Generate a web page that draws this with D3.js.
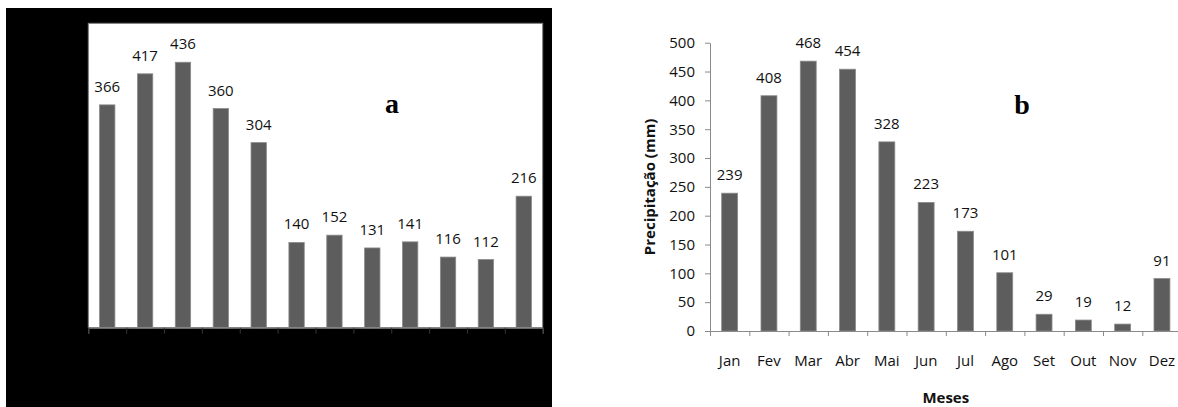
<!DOCTYPE html>
<html>
<head>
<meta charset="utf-8">
<script src="https://cdn.jsdelivr.net/npm/d3@7"></script>
<style>
  html, body { margin: 0; padding: 0; background: #fff; }
  svg { display: block; }
  .lbl { font-family: "Open Sans", "Liberation Sans", sans-serif; font-size: 15px; fill: #111; }
</style>
</head>
<body>
<div id="chart"></div>
<script>
// ---- data ----
const months = ["Jan", "Fev", "Mar", "Abr", "Mai", "Jun", "Jul", "Ago", "Set", "Out", "Nov", "Dez"];
const valuesA = [366, 417, 436, 360, 304, 140, 152, 131, 141, 116, 112, 216];
const valuesB = [239, 408, 468, 454, 328, 223, 173, 101, 29, 19, 12, 91];
const yTicksB = [0, 50, 100, 150, 200, 250, 300, 350, 400, 450, 500];
const yTitleB = "Precipitação (mm)";
const xTitleB = "Meses";
const panelA = "a";
const panelB = "b";

const W = 1178, H = 407;
const svg = d3.select("#chart").append("svg").attr("width", W).attr("height", H);
svg.append("rect").attr("width", W).attr("height", H).attr("fill", "#fff");

const BAR = "#5d5d5d", BAR_EDGE = "#8a8a8a", AXIS = "#8a8a8a";

// ================= Panel a =================
const gA = svg.append("g");
gA.append("rect").attr("x", 6).attr("y", 8).attr("width", 546).attr("height", H - 8).attr("fill", "#000");

const xA = d3.scaleBand().domain(months).range([88.3, 542.7]).paddingInner(0.595).paddingOuter(0.2975);
const yA = d3.scaleLinear().domain([0, 500]).range([327.7, 23.3]);
const edgeA = d3.scaleLinear().domain([0, months.length]).range(xA.range());

gA.append("rect")
  .attr("x", xA.range()[0]).attr("y", yA(500))
  .attr("width", xA.range()[1] - xA.range()[0]).attr("height", yA(0) - yA(500))
  .attr("fill", "#fff").attr("stroke", "#7a7a7a").attr("stroke-width", 1);

gA.selectAll("rect.bar").data(valuesA).join("rect").attr("class", "bar")
  .attr("x", (d, i) => xA(months[i])).attr("width", xA.bandwidth())
  .attr("y", d => yA(d)).attr("height", d => yA(0) - yA(d))
  .attr("fill", BAR).attr("stroke", BAR_EDGE).attr("stroke-width", 0.8);

gA.selectAll("text.val").data(valuesA).join("text").attr("class", "val lbl")
  .attr("x", (d, i) => xA(months[i]) + xA.bandwidth() / 2)
  .attr("y", d => yA(d) - 13)
  .attr("text-anchor", "middle").text(d => d);

const axA = gA.append("g").attr("transform", `translate(0,${yA(0)})`)
  .call(d3.axisBottom(edgeA).tickValues(d3.range(months.length + 1)).tickSize(6).tickFormat(""));
axA.select(".domain").attr("stroke", AXIS);
axA.selectAll(".tick line").attr("stroke", "#333");

gA.append("text").attr("x", 392).attr("y", 113).attr("text-anchor", "middle")
  .style("font-family", "'Liberation Serif', 'Times New Roman', serif")
  .style("font-weight", "bold").style("font-size", "28px").attr("fill", "#000").text(panelA);

// ================= Panel b =================
const gB = svg.append("g");
const xB = d3.scaleBand().domain(months).range([710, 1181.6]).paddingInner(0.595).paddingOuter(0.2975);
const yB = d3.scaleLinear().domain([0, 500]).range([331, 42.7]);
const edgeB = d3.scaleLinear().domain([0, months.length]).range(xB.range());

gB.selectAll("rect.bar").data(valuesB).join("rect").attr("class", "bar")
  .attr("x", (d, i) => xB(months[i])).attr("width", xB.bandwidth())
  .attr("y", d => yB(d)).attr("height", d => yB(0) - yB(d))
  .attr("fill", BAR).attr("stroke", BAR_EDGE).attr("stroke-width", 0.8);

gB.selectAll("text.val").data(valuesB).join("text").attr("class", "val lbl")
  .attr("x", (d, i) => xB(months[i]) + xB.bandwidth() / 2)
  .attr("y", d => yB(d) - 13)
  .attr("text-anchor", "middle").text(d => d);

// y axis
const ayB = gB.append("g").attr("transform", `translate(${xB.range()[0]},0)`)
  .call(d3.axisLeft(yB).tickValues(yTicksB).tickSize(5).tickPadding(10).tickSizeOuter(0));
ayB.select(".domain").attr("stroke", AXIS);
ayB.selectAll(".tick line").attr("stroke", AXIS);
ayB.selectAll(".tick text").attr("class", "lbl").attr("fill", "#111");

// x axis: edge ticks
const axB = gB.append("g").attr("transform", `translate(0,${yB(0)})`)
  .call(d3.axisBottom(edgeB).tickValues(d3.range(months.length + 1)).tickSize(5).tickFormat("").tickSizeOuter(0));
axB.select(".domain").attr("stroke", AXIS);
axB.selectAll(".tick line").attr("stroke", AXIS);

// x axis: category labels
const axBl = gB.append("g").attr("transform", `translate(0,${yB(0)})`)
  .call(d3.axisBottom(xB).tickSize(0).tickPadding(24));
axBl.select(".domain").remove();
axBl.selectAll(".tick text").attr("class", "lbl").attr("fill", "#111");

// titles
gB.append("text").attr("class", "lbl")
  .attr("transform", `translate(655,${(yB(0) + yB(500)) / 2}) rotate(-90)`)
  .attr("text-anchor", "middle").style("font-weight", "bold").style("font-size", "15px")
  .text(yTitleB);
gB.append("text").attr("class", "lbl")
  .attr("x", (xB.range()[0] + xB.range()[1]) / 2).attr("y", 403)
  .attr("text-anchor", "middle").style("font-weight", "bold").style("font-size", "15px")
  .text(xTitleB);

gB.append("text").attr("x", 1022).attr("y", 114).attr("text-anchor", "middle")
  .style("font-family", "'Liberation Serif', 'Times New Roman', serif")
  .style("font-weight", "bold").style("font-size", "28px").attr("fill", "#000").text(panelB);
</script>
</body>
</html>
